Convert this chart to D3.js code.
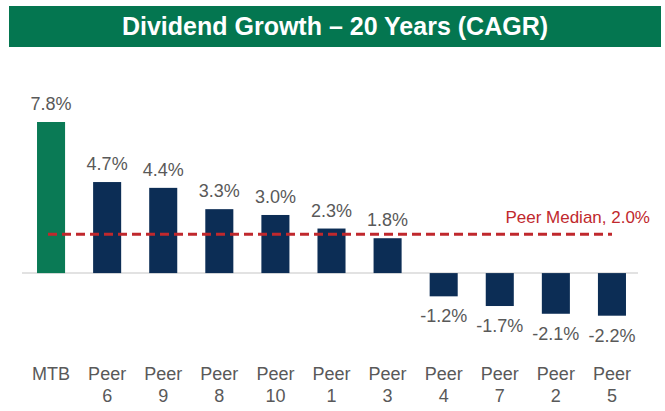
<!DOCTYPE html>
<html lang="en">
  <head>
    <meta charset="UTF-8" />
    <title>Dividend Growth – 20 Years (CAGR)</title>
    <script src="https://d3js.org/d3.v7.min.js"></script>
    <style>
      body {
        margin: 0;
        background: #fff;
        font-family: Arial, "Liberation Sans", sans-serif;
      }
      .value-label,
      .cat-label {
        fill: #595959;
        font-size: 18px;
      }
      .median-label {
        fill: #c0282d;
        font-size: 17px;
      }
    </style>
  </head>
  <body>
    <div id="chart"></div>

    <script>
      // data
      const categories = ["MTB", "Peer 6", "Peer 9", "Peer 8", "Peer 10", "Peer 1", "Peer 3", "Peer 4", "Peer 7", "Peer 2", "Peer 5"];
      const growth = [7.8, 4.7, 4.4, 3.3, 3.0, 2.3, 1.8, -1.2, -1.7, -2.1, -2.2];
      const peerMedian = 2.0;
      const title = "Dividend Growth – 20 Years (CAGR)";

      const W = 665, H = 411;

      const svg = d3
        .select("#chart")
        .append("svg")
        .attr("width", W)
        .attr("height", H);

      // title banner
      svg.append("rect")
        .attr("x", 9).attr("y", 6)
        .attr("width", 652).attr("height", 41)
        .attr("fill", "#047650");
      svg.append("text")
        .attr("x", 335).attr("y", 35)
        .attr("text-anchor", "middle")
        .attr("fill", "#fff")
        .attr("font-weight", "bold")
        .attr("font-size", 25)
        .text(title);

      // scales
      const x = d3.scaleBand()
        .domain(categories)
        .range([23, 640])
        .paddingInner(0.5)
        .paddingOuter(0.25);

      const y = d3.scaleLinear()
        .domain([-2.2, 7.8])
        .range([315.7, 122]);

      // zero line
      svg.append("line")
        .attr("x1", 22).attr("x2", 638)
        .attr("y1", y(0)).attr("y2", y(0))
        .attr("stroke", "#d9d9d9")
        .attr("stroke-width", 1.5);

      // bars
      svg.selectAll(".bar")
        .data(growth)
        .join("rect")
        .attr("class", "bar")
        .attr("x", (d, i) => x(categories[i]))
        .attr("width", x.bandwidth())
        .attr("y", (d) => y(Math.max(0, d)))
        .attr("height", (d) => Math.abs(y(d) - y(0)))
        .attr("fill", (d, i) => (i === 0 ? "#0a7a55" : "#0c2d55"));

      // value labels
      svg.selectAll(".value-label")
        .data(growth)
        .join("text")
        .attr("class", "value-label")
        .attr("x", (d, i) => x(categories[i]) + x.bandwidth() / 2)
        .attr("y", (d) => (d >= 0 ? y(d) - 12 : y(d) + 26))
        .attr("text-anchor", "middle")
        .text((d) => d.toFixed(1) + "%");

      // peer median line
      svg.append("line")
        .attr("x1", 48).attr("x2", 612)
        .attr("y1", y(peerMedian)).attr("y2", y(peerMedian))
        .attr("stroke", "#c0282d")
        .attr("stroke-width", 3)
        .attr("stroke-dasharray", "9,5");
      svg.append("text")
        .attr("class", "median-label")
        .attr("x", 650)
        .attr("y", y(peerMedian) - 11)
        .attr("text-anchor", "end")
        .text("Peer Median, " + peerMedian.toFixed(1) + "%");

      // category labels (two lines)
      const cat = svg.selectAll(".cat-label")
        .data(categories)
        .join("text")
        .attr("class", "cat-label")
        .attr("text-anchor", "middle")
        .attr("transform", (d) => `translate(${x(d) + x.bandwidth() / 2},380)`);
      cat.selectAll("tspan")
        .data((d) => d.split(" "))
        .join("tspan")
        .attr("x", 0)
        .attr("y", (d, i) => i * 22)
        .text((d) => d);
    </script>
  </body>
</html>
